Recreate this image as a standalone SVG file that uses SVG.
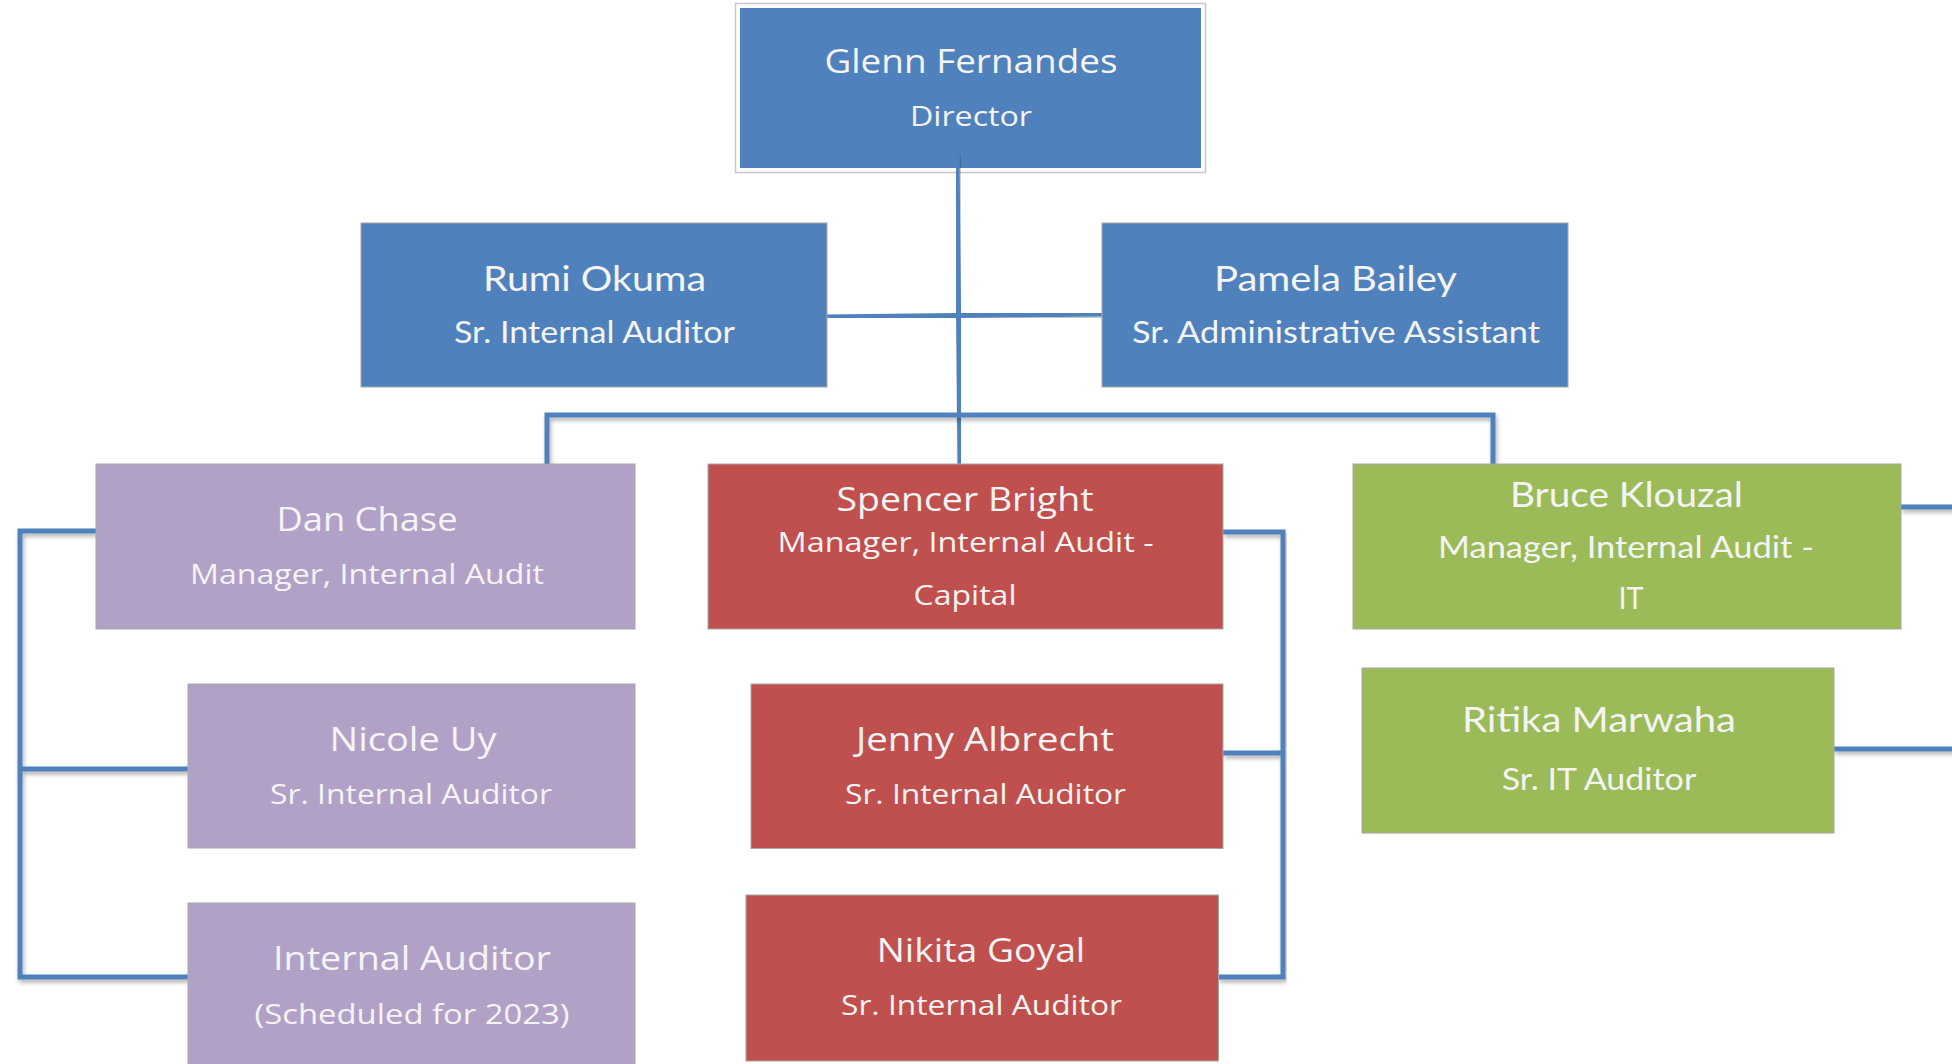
<svg xmlns="http://www.w3.org/2000/svg" width="1952" height="1064" viewBox="0 0 1952 1064">
<style>
.box{stroke:#a6a6a6;stroke-width:1}
.blue{fill:#4F81BD}
.purple{fill:#B2A1C7}
.red{fill:#C0504D}
.green{fill:#9BBB59}
.t{fill:#F4F4F4;text-anchor:middle;font-family:"Open Sans","Noto Sans","DejaVu Sans",sans-serif}
.c{fill:#F4F4F4;text-anchor:middle;font-family:Lato,"Open Sans","DejaVu Sans",sans-serif}
.n{font-size:32px}
.s{font-size:28px}
.cn{font-size:35px}
.cs{font-size:31px}
.conn{fill:none;stroke:#4F81BD;stroke-width:5;stroke-linejoin:miter;filter:url(#sh)}
</style>
<defs>
<filter id="sh" x="-5%" y="-5%" width="110%" height="110%">
<feDropShadow dx="1.5" dy="3" stdDeviation="2" flood-color="#000" flood-opacity="0.3"/>
</filter>
</defs>
<rect width="1952" height="1064" fill="#ffffff"/>

<g id="node-glenn">
<rect x="735.5" y="3.5" width="470" height="169" fill="#ffffff" stroke="#c8c8c8" stroke-width="1.5"/>
<rect x="740" y="8" width="461" height="160" class="blue"/>
<text class="t n" x="971" y="73" textLength="293" lengthAdjust="spacingAndGlyphs">Glenn Fernandes</text>
<text class="t s" x="971" y="126" textLength="122" lengthAdjust="spacingAndGlyphs">Director</text>
</g>

<g id="connectors">
<path class="conn" d="M957,153 L960,464"/>
<path class="conn" d="M827,317 L1102,314"/>
<path class="conn" d="M547,464 V415 H1493 V464"/>
<path class="conn" d="M96,531 H20 V977 H188 M20,769 H188"/>
<path class="conn" d="M1223,532 H1283 V977 H1218 M1223,753 H1283"/>
<path class="conn" d="M1901,507 H1958 V749 H1834"/>
</g>

<g id="node-rumi">
<rect x="361" y="223" width="466" height="164" class="box blue"/>
<text class="c cn" x="594.5" y="291" textLength="223" lengthAdjust="spacingAndGlyphs">Rumi Okuma</text>
<text class="c cs" x="594.5" y="343" textLength="281" lengthAdjust="spacingAndGlyphs">Sr. Internal Auditor</text>
</g>

<g id="node-pamela">
<rect x="1102" y="223" width="466" height="164" class="box blue"/>
<text class="c cn" x="1335.5" y="291" textLength="243" lengthAdjust="spacingAndGlyphs">Pamela Bailey</text>
<text class="c cs" x="1336" y="343" textLength="408" lengthAdjust="spacingAndGlyphs">Sr. Administrative Assistant</text>
</g>

<g id="node-dan">
<rect x="96" y="464" width="539" height="165" class="box purple"/>
<text class="t n" x="367" y="531" textLength="181" lengthAdjust="spacingAndGlyphs">Dan Chase</text>
<text class="t s" x="367" y="584" textLength="354" lengthAdjust="spacingAndGlyphs">Manager, Internal Audit</text>
</g>

<g id="node-nicole">
<rect x="188" y="684" width="447" height="164" class="box purple"/>
<text class="t n" x="413" y="751" textLength="167" lengthAdjust="spacingAndGlyphs">Nicole Uy</text>
<text class="t s" x="411" y="803.5" textLength="282" lengthAdjust="spacingAndGlyphs">Sr. Internal Auditor</text>
</g>

<g id="node-internal-auditor">
<rect x="188" y="903" width="447" height="170" class="box purple"/>
<text class="t n" x="412" y="970" textLength="278" lengthAdjust="spacingAndGlyphs">Internal Auditor</text>
<text class="t s" x="412" y="1023.5" textLength="315" lengthAdjust="spacingAndGlyphs">(Scheduled for 2023)</text>
</g>

<g id="node-spencer">
<rect x="708" y="464" width="515" height="165" class="box red"/>
<text class="t n" x="965" y="510.7" textLength="257" lengthAdjust="spacingAndGlyphs">Spencer Bright</text>
<text class="t s" x="965.6" y="552" textLength="376" lengthAdjust="spacingAndGlyphs">Manager, Internal Audit -</text>
<text class="t s" x="965" y="604.7" textLength="103" lengthAdjust="spacingAndGlyphs">Capital</text>
</g>

<g id="node-jenny">
<rect x="751" y="684" width="472" height="164.5" class="box red"/>
<text class="t n" x="985" y="750.7" textLength="258" lengthAdjust="spacingAndGlyphs">Jenny Albrecht</text>
<text class="t s" x="985.5" y="803.6" textLength="281" lengthAdjust="spacingAndGlyphs">Sr. Internal Auditor</text>
</g>

<g id="node-nikita">
<rect x="746" y="895" width="472.5" height="166" class="box red"/>
<text class="t n" x="981" y="961.7" textLength="208.6" lengthAdjust="spacingAndGlyphs">Nikita Goyal</text>
<text class="t s" x="981.5" y="1015" textLength="281" lengthAdjust="spacingAndGlyphs">Sr. Internal Auditor</text>
</g>

<g id="node-bruce">
<rect x="1353" y="464" width="548" height="165" class="box green"/>
<text class="c cn" x="1626.5" y="506.7" textLength="233" lengthAdjust="spacingAndGlyphs">Bruce Klouzal</text>
<text class="c cs" x="1626" y="558.3" textLength="376" lengthAdjust="spacingAndGlyphs">Manager, Internal Audit -</text>
<text class="c cs" x="1631" y="609.3" textLength="25" lengthAdjust="spacingAndGlyphs">IT</text>
</g>

<g id="node-ritika">
<rect x="1362" y="668" width="472" height="165" class="box green"/>
<text class="c cn" x="1599" y="731.7" textLength="274" lengthAdjust="spacingAndGlyphs">Ritika Marwaha</text>
<text class="c cs" x="1599" y="790" textLength="194.6" lengthAdjust="spacingAndGlyphs">Sr. IT Auditor</text>
</g>
</svg>
